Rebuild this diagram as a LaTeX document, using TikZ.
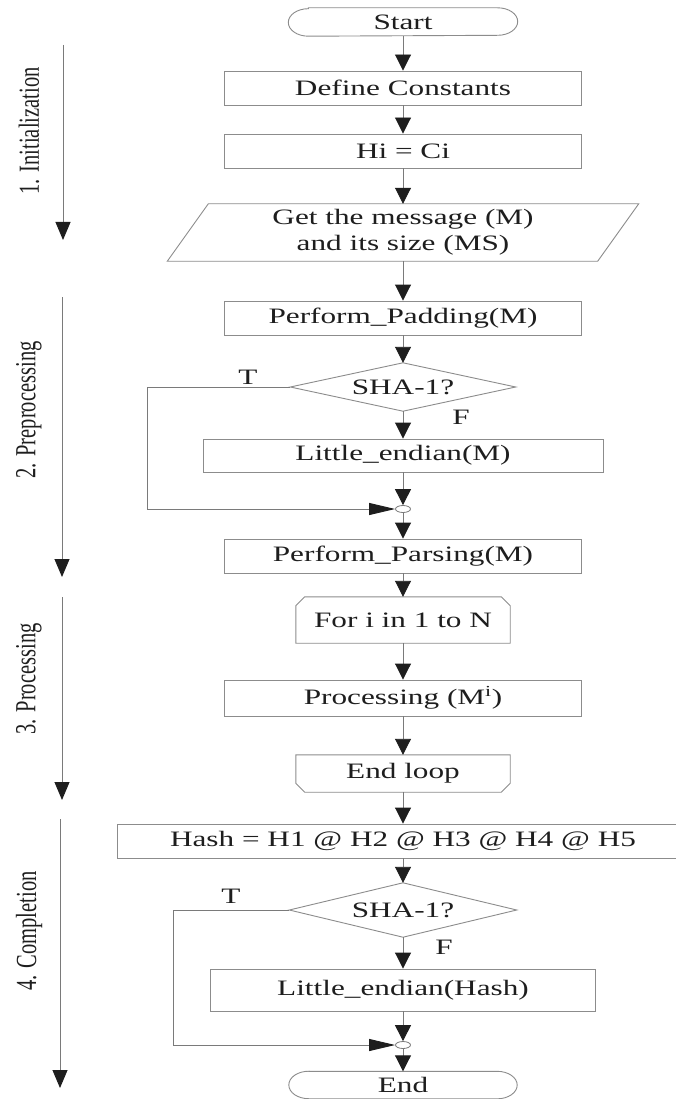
\documentclass[tikz,border=0pt]{standalone}
\usepackage{fontspec}
\usepackage{graphicx}
\setmainfont{Liberation Serif}
\newfontfamily\boxfont{Liberation Serif}[FakeStretch=1.42]
\usetikzlibrary{arrows.meta,shapes.geometric}
\definecolor{edge}{HTML}{8C8C8C}
\definecolor{wire}{HTML}{7A7A7A}
\definecolor{ink}{HTML}{1E1E1E}
\tikzset{
  lbl/.style={text=ink, font=\boxfont\fontsize{22}{26}\selectfont, inner sep=0pt},
  frame/.style={draw=edge, line width=0.9pt},
  blk/.style={lbl, frame, rectangle, minimum height=34pt},
  ghost/.style={lbl, draw=none, rectangle},
  flow/.style={draw=wire, line width=0.9pt, -{Triangle[length=16pt,width=16pt,color=ink]}},
  sideflow/.style={draw=wire, line width=0.9pt, -{Triangle[length=18pt,width=15pt,color=ink]}},
  merge/.style={draw=wire, line width=0.9pt, -{Triangle[length=26pt,width=12pt,color=ink]}},
  joint/.style={ellipse, draw=wire, fill=white, line width=0.8pt, minimum width=15pt, minimum height=7pt, inner sep=0pt},
  phase/.style={text=ink, font=\fontsize{20.5}{24}\selectfont, rotate=90, inner sep=0pt},
  tf/.style={lbl},
}
\begin{document}
\begin{tikzpicture}[x=1pt,y=1pt]
\useasboundingbox (0,-1099) rectangle (676,0);
\clip (0,-1099) rectangle (676,0);
\fill[white] (0,-1099) rectangle (676,0);

% ---- main column ----
\node[ghost, minimum width=229pt, minimum height=28pt] (st) at (403,-22) {Start};
\node[blk, minimum width=357pt] (dc) at (403,-88) {Define Constants};
\node[blk, minimum width=357pt] (hc) at (403,-151) {Hi = Ci};
\node[ghost, minimum width=430pt, minimum height=57pt, align=center] (gm) at (403,-232.5) {Get the message (M)\\and its size (MS)};
\node[blk, minimum width=357pt] (pp) at (403,-318) {Perform\_Padding(M)};
\node[ghost, minimum width=225pt, minimum height=48pt] (d1) at (403,-387) {SHA-1?};
\node[blk, minimum width=400pt, minimum height=33pt] (le) at (403,-455.5) {Little\_endian(M)};
\node[joint] (j1) at (403,-509) {};
\node[blk, minimum width=357pt] (pa) at (403,-556) {Perform\_Parsing(M)};
\node[ghost, minimum width=214pt, minimum height=46pt] (fl) at (403,-620) {For i in 1 to N};
\node[blk, minimum width=357pt, minimum height=36pt] (pr) at (403,-698) {Processing (M\textsuperscript{i})};
\node[ghost, minimum width=214pt, minimum height=37pt] (el) at (403,-773.5) {End loop};
\node[blk, minimum width=572pt] (hs) at (403,-841) {Hash = H1 @ H2 @ H3 @ H4 @ H5};
\node[ghost, minimum width=227pt, minimum height=54pt] (d2) at (403,-910) {SHA-1?};
\node[blk, minimum width=385pt, minimum height=42pt] (lh) at (403,-990) {Little\_endian(Hash)};
\node[joint] (j2) at (403,-1045) {};
\node[ghost, minimum width=228pt, minimum height=27pt] (en) at (403,-1085) {End};

% terminal outlines (stretched half-round ends)
\foreach \t in {st,en}{
  \draw[frame] ([xshift=20pt]\t.north west) -- ([xshift=-20pt]\t.north east)
    arc[start angle=90,end angle=-90,x radius=20pt,y radius=13.75pt]
    -- ([xshift=20pt]\t.south west)
    arc[start angle=270,end angle=90,x radius=20pt,y radius=13.75pt] -- cycle;
}
% input parallelogram
\draw[frame] ([xshift=20.5pt]gm.north west) -- ([xshift=20.5pt]gm.north east)
  -- ([xshift=-20.5pt]gm.south east) -- ([xshift=-20.5pt]gm.south west) -- cycle;
% decisions
\foreach \d in {d1,d2}{
  \draw[frame] (\d.west) -- (\d.north) -- (\d.east) -- (\d.south) -- cycle;
}
% loop limits
\draw[frame] (fl.south west) -- ([yshift=-9pt]fl.north west) -- ([xshift=9pt]fl.north west)
  -- ([xshift=-9pt]fl.north east) -- ([yshift=-9pt]fl.north east) -- (fl.south east) -- cycle;
\draw[frame] (el.north west) -- ([yshift=9pt]el.south west) -- ([xshift=9pt]el.south west)
  -- ([xshift=-9pt]el.south east) -- ([yshift=9pt]el.south east) -- (el.north east) -- cycle;

% ---- main flow ----
\draw[flow] (st) -- (dc);
\draw[flow] (dc) -- (hc);
\draw[flow] (hc) -- (gm);
\draw[flow] (gm) -- (pp);
\draw[flow] (pp) -- (d1.north);
\draw[flow] (d1.south) -- (le);
\draw[flow] (le) -- (j1);
\draw[flow] (j1) -- (pa);
\draw[flow] (pa) -- (fl);
\draw[flow] (fl) -- (pr);
\draw[flow] (pr) -- (el);
\draw[flow] (el) -- (hs);
\draw[flow] (hs) -- (d2.north);
\draw[flow] (d2.south) -- (lh);
\draw[flow] (lh) -- (j2);
\draw[flow] (j2) -- (en);

% bypass branches
\coordinate (k1) at (147.5,-509);
\coordinate (k2) at (173,-1045);
\draw[merge] (d1.west) -| (k1) -- (j1.west);
\draw[merge] (d2.west) -| (k2) -- (j2.west);
\node[tf] (t1) at (248,-377) {T};
\node[tf] (f1) at (461,-417) {F};
\node[tf] (t2) at (231,-896) {T};
\node[tf] (f2) at (444,-947) {F};

% ---- phase markers ----
\coordinate (p1a) at (63,-45);   \coordinate (p1b) at (63,-240);
\coordinate (p2a) at (62,-297);  \coordinate (p2b) at (62,-577);
\coordinate (p3a) at (62,-597);  \coordinate (p3b) at (62,-800);
\coordinate (p4a) at (60,-819);  \coordinate (p4b) at (60,-1088);
\draw[sideflow] (p1a) -- (p1b);
\draw[sideflow] (p2a) -- (p2b);
\draw[sideflow] (p3a) -- (p3b);
\draw[sideflow] (p4a) -- (p4b);
\node[phase] (n1) at (29,-131) {\scalebox{1}[1.42]{1. Initialization}};
\node[phase] (n2) at (29,-410) {\scalebox{1}[1.42]{2. Preprocessing}};
\node[phase] (n3) at (29,-679) {\scalebox{1}[1.42]{3. Processing}};
\node[phase] (n4) at (29,-931) {\scalebox{1}[1.42]{4. Completion}};
\end{tikzpicture}
\end{document}
